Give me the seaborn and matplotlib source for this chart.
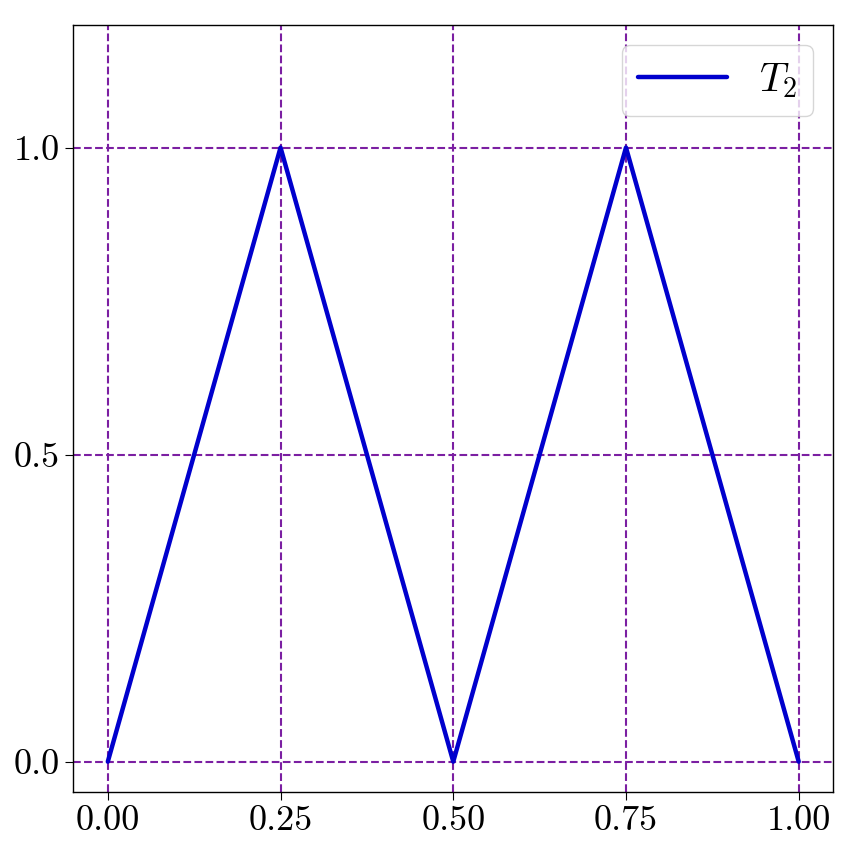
import numpy as np
import pandas as pd
import seaborn as sns
import matplotlib.pyplot as plt

# tent map T_2 breakpoints
x_vals = [0.0, 0.25, 0.5, 0.75, 1.0]
y_vals = [0.0, 1.0, 0.0, 1.0, 0.0]
x_ticks = [0.0, 0.25, 0.5, 0.75, 1.0]
y_ticks = [0.0, 0.5, 1.0]
series_label = r"$T_2$"

sns.set_style("ticks")
plt.rcParams["font.family"] = ["cmr10", "DejaVu Serif"]
plt.rcParams["mathtext.fontset"] = "cm"
plt.rcParams["axes.unicode_minus"] = False
plt.rcParams["text.color"] = "black"
plt.rcParams["xtick.color"] = "black"
plt.rcParams["ytick.color"] = "black"
plt.rcParams["axes.edgecolor"] = "black"

df = pd.DataFrame({"x": x_vals, "y": y_vals})

fig, ax = plt.subplots(figsize=(8.52, 8.52), dpi=100)
sns.lineplot(data=df, x="x", y="y", ax=ax, color="#0000cd", lw=3.2, label=series_label)

grid_c = "#7b1fa2"
for xv in x_ticks:
    ax.axvline(xv, color=grid_c, ls="--", lw=1.5, zorder=0)
for yv in y_ticks:
    ax.axhline(yv, color=grid_c, ls="--", lw=1.5, zorder=0)

ax.set_xlim(-0.05, 1.05)
ax.set_ylim(-0.05, 1.2)
ax.set_xticks(x_ticks)
ax.set_xticklabels(["0.00", "0.25", "0.50", "0.75", "1.00"])
ax.set_yticks(y_ticks)
ax.set_yticklabels(["0.0", "0.5", "1.0"])
ax.tick_params(labelsize=26, length=6)
ax.set_xlabel("")
ax.set_ylabel("")
for s in ax.spines.values():
    s.set_visible(True)
    s.set_linewidth(1.0)

ax.legend(loc="upper right", fontsize=29, handlelength=2.2, fancybox=True,
          borderaxespad=0.5)

fig.subplots_adjust(left=0.086, right=0.978, bottom=0.07, top=0.971)
fig.savefig("out.png", dpi=100)
